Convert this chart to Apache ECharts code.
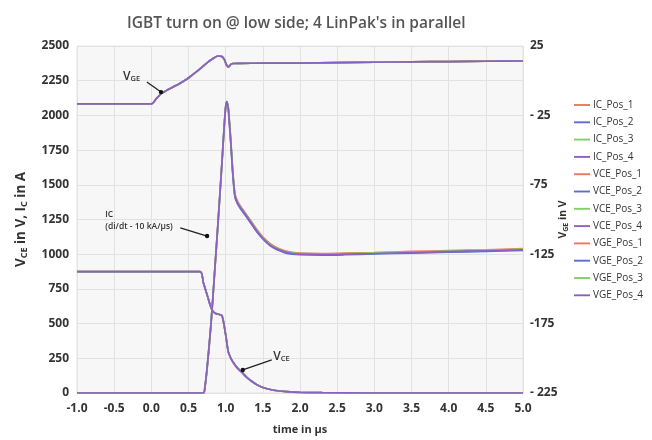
<!DOCTYPE html>
<html><head><meta charset="utf-8">
<script src="https://cdn.jsdelivr.net/npm/echarts@6/dist/echarts.min.js"></script>
<style>html,body{margin:0;padding:0;background:#fff}#c{width:652px;height:440px}</style>
</head><body><div id="c"></div>
<script>
const chartTitle = "IGBT turn on @ low side; 4 LinPak's in parallel";
const positions = ['Pos_1', 'Pos_2', 'Pos_3', 'Pos_4'];
const posColors = ['#f0765c', '#5d6bd2', '#82cf66', '#8d5fc5'];

// IC in A (left axis)
const icTime = [-1.0, 0.70, 0.72, 0.75, 0.80, 0.85, 0.90, 0.95, 0.98, 1.00, 1.015, 1.035, 1.05, 1.07, 1.095, 1.125, 1.16, 1.20, 1.28, 1.35, 1.42, 1.50, 1.60, 1.70, 1.80, 1.90, 2.00, 2.30, 2.60, 3.00, 3.50, 4.00, 4.50, 5.00];
const icPos1 = [0, 0, 35, 170, 470, 850, 1240, 1650, 1910, 2055, 2095, 2060, 1965, 1815, 1605, 1435, 1382, 1345, 1285, 1232, 1178, 1126, 1076, 1045, 1024, 1013, 1008, 1005, 1008, 1012, 1020, 1026, 1032, 1040];
const icPos2 = [0, 0, 42, 185, 485, 865, 1255, 1665, 1925, 2065, 2100, 2045, 1940, 1790, 1580, 1410, 1362, 1328, 1268, 1214, 1160, 1110, 1060, 1030, 1010, 1000, 996, 993, 996, 1002, 1008, 1014, 1021, 1028];
const icPos3 = [0, 0, 38, 175, 475, 855, 1245, 1655, 1915, 2058, 2098, 2055, 1958, 1808, 1598, 1428, 1376, 1340, 1280, 1226, 1171, 1120, 1070, 1040, 1019, 1009, 1004, 1001, 1004, 1009, 1016, 1022, 1029, 1036];
const icPos4 = [0, 0, 40, 180, 480, 860, 1250, 1660, 1920, 2060, 2100, 2050, 1950, 1800, 1590, 1420, 1370, 1335, 1275, 1220, 1165, 1115, 1065, 1035, 1015, 1005, 1000, 997, 1000, 1005, 1012, 1018, 1025, 1032];

// VCE in V (left axis)
const vceTime = [-1.0, 0.655, 0.70, 0.75, 0.80, 0.84, 0.88, 0.92, 0.95, 0.97, 1.00, 1.035, 1.07, 1.10, 1.15, 1.22, 1.28, 1.35, 1.42, 1.50, 1.60, 1.70, 1.82, 2.00, 2.30, 3.00, 4.00, 5.00];
const vcePos = [875, 875, 795, 708, 620, 582, 570, 565, 558, 515, 420, 298, 250, 222, 185, 148, 115, 85, 60, 40, 25, 16, 10, 5, 2, 0, 0, 0];

// VGE in V (right axis)
const vgeTime = [-1.0, 0.0, 0.07, 0.14, 0.22, 0.30, 0.40, 0.48, 0.56, 0.65, 0.74, 0.83, 0.90, 0.95, 0.985, 1.01, 1.04, 1.07, 1.10, 1.20, 1.50, 2.00, 2.50, 3.00, 3.50, 4.00, 4.50, 5.00];
const vgePos = [-16.7, -16.7, -12.8, -9.0, -6.6, -4.3, -1.4, 1.2, 4.5, 8.3, 12.5, 16.0, 17.8, 17.5, 15.0, 11.5, 10.0, 11.8, 12.4, 12.5, 12.6, 12.7, 13.0, 13.3, 13.6, 13.8, 14.0, 14.2];

const rightTicks = [-225, -175, -125, -75, -25, 25];
const rightTickLabels = ['- 225', '-175', '-125', '-75', '- 25', '25'];

const annotations = [
  { text: '{v|V}{s|GE}', at: [-0.38, 2280], from: [-0.06, 2240], to: [0.13, 2168] },
  { text: '{t|IC}\n{t|(di/dt - 10 kA/µs)}', at: [-0.62, 1243], from: [0.39, 1190], to: [0.75, 1131] },
  { text: '{v|V}{s|CE}', at: [1.64, 264], from: [1.62, 238], to: [1.23, 166] }
];

const zip = (t, v) => t.map((x, i) => [x, v[i]]);
const icData = [icPos1, icPos2, icPos3, icPos4];
const series = [];
positions.forEach((p, i) => series.push({ name: 'IC_' + p, data: zip(icTime, icData[i]), yAxisIndex: 0, color: posColors[i] }));
positions.forEach((p, i) => series.push({ name: 'VCE_' + p, data: zip(vceTime, vcePos), yAxisIndex: 0, color: posColors[i] }));
positions.forEach((p, i) => series.push({ name: 'VGE_' + p, data: zip(vgeTime, vgePos), yAxisIndex: 1, color: posColors[i] }));

const FONT = "'Open Sans', 'DejaVu Sans', sans-serif";
const chart = echarts.init(document.getElementById('c'), null, { renderer: 'canvas' });
chart.setOption({
  animation: false,
  backgroundColor: '#ffffff',
  title: {
    text: chartTitle, left: 122, top: 11,
    textStyle: { fontFamily: FONT, fontSize: 15.5, fontWeight: 600, color: '#555' }
  },
  legend: {
    orient: 'vertical', left: 569, top: 95,
    itemWidth: 16, itemHeight: 10, itemGap: 7.3,
    icon: 'path://M0 0 H17 V2 H0 Z',
    textStyle: { fontFamily: FONT, fontSize: 10, color: '#333', padding: [0, 0, 0, -2] },
    data: series.map(s => s.name)
  },
  grid: { left: 77, right: 129, top: 46, bottom: 45, show: true, backgroundColor: '#f7f7f7', borderColor: '#e4e4e4', borderWidth: 1 },
  xAxis: {
    type: 'value', min: -1, max: 5, interval: 0.5,
    name: 'time in µs', nameLocation: 'middle', nameGap: 31, nameMoveOverlap: false,
    nameTextStyle: { fontFamily: FONT, fontSize: 11, fontWeight: 'bold', color: '#333' },
    axisLine: { show: false }, axisTick: { show: false },
    axisLabel: { fontFamily: FONT, fontSize: 12, fontWeight: 'bold', color: '#333', margin: 10, formatter: v => v.toFixed(1) },
    splitLine: { show: true, lineStyle: { color: '#e2e2e2', width: 1 } }
  },
  yAxis: [{
    type: 'value', min: 0, max: 2500, interval: 250,
    name: '{v|V}{s|CE}{v| in V, I}{s|C}{v| in A}', nameLocation: 'middle', nameGap: 48, nameRotate: 90, nameMoveOverlap: false,
    nameTextStyle: { rich: {
      v: { fontFamily: FONT, fontSize: 13.5, fontWeight: 'bold', color: '#333' },
      s: { fontFamily: FONT, fontSize: 9, fontWeight: 'bold', color: '#333', padding: [6, 0, 0, 0] }
    } },
    axisLine: { show: false }, axisTick: { show: false },
    axisLabel: { fontFamily: FONT, fontSize: 12, fontWeight: 'bold', color: '#333', margin: 8, formatter: v => String(v) },
    splitLine: { show: true, lineStyle: { color: '#e2e2e2', width: 1 } }
  }, {
    type: 'value', min: -225, max: 25, position: 'right',
    name: '{v|V}{s|GE}{v| in V}', nameLocation: 'middle', nameGap: 35, nameRotate: 90, nameMoveOverlap: false,
    nameTextStyle: { rich: {
      v: { fontFamily: FONT, fontSize: 10.5, fontWeight: 'bold', color: '#333' },
      s: { fontFamily: FONT, fontSize: 7, fontWeight: 'bold', color: '#333', padding: [4, 0, 0, 0] }
    } },
    axisLine: { show: false }, axisTick: { show: false },
    axisLabel: { customValues: rightTicks, fontFamily: FONT, fontSize: 12, fontWeight: 'bold', color: '#333', margin: 7,
      formatter: v => rightTickLabels[rightTicks.indexOf(v)] ?? String(v) },
    splitLine: { show: false }
  }],
  series: series.map(s => ({
    type: 'line', name: s.name, data: s.data, yAxisIndex: s.yAxisIndex,
    showSymbol: false, symbol: 'none', smooth: 0.25,
    lineStyle: { width: 1.7, color: s.color }, itemStyle: { color: s.color }, z: 2
  }))
});

function drawAnnotations() {
  const els = [];
  annotations.forEach(a => {
    const p = chart.convertToPixel({ xAxisIndex: 0, yAxisIndex: 0 }, a.at);
    const f = chart.convertToPixel({ xAxisIndex: 0, yAxisIndex: 0 }, a.from);
    const t = chart.convertToPixel({ xAxisIndex: 0, yAxisIndex: 0 }, a.to);
    els.push({ type: 'text', x: p[0], y: p[1], z: 10, style: {
      text: a.text, verticalAlign: 'middle', align: 'left',
      rich: {
        v: { fontFamily: FONT, fontSize: 12, fontWeight: 600, fill: '#333' },
        s: { fontFamily: FONT, fontSize: 7.5, fontWeight: 600, fill: '#333', padding: [5, 0, 0, 0] },
        t: { fontFamily: FONT, fontSize: 8.5, fontWeight: 600, fill: '#333', lineHeight: 12 }
      } } });
    els.push({ type: 'line', z: 10, shape: { x1: f[0], y1: f[1], x2: t[0], y2: t[1] }, style: { stroke: '#222', lineWidth: 1.3 } });
    els.push({ type: 'circle', z: 10, shape: { cx: t[0], cy: t[1], r: 2.2 }, style: { fill: '#111' } });
  });
  chart.setOption({ graphic: els });
}
drawAnnotations();
</script>
</body></html>
